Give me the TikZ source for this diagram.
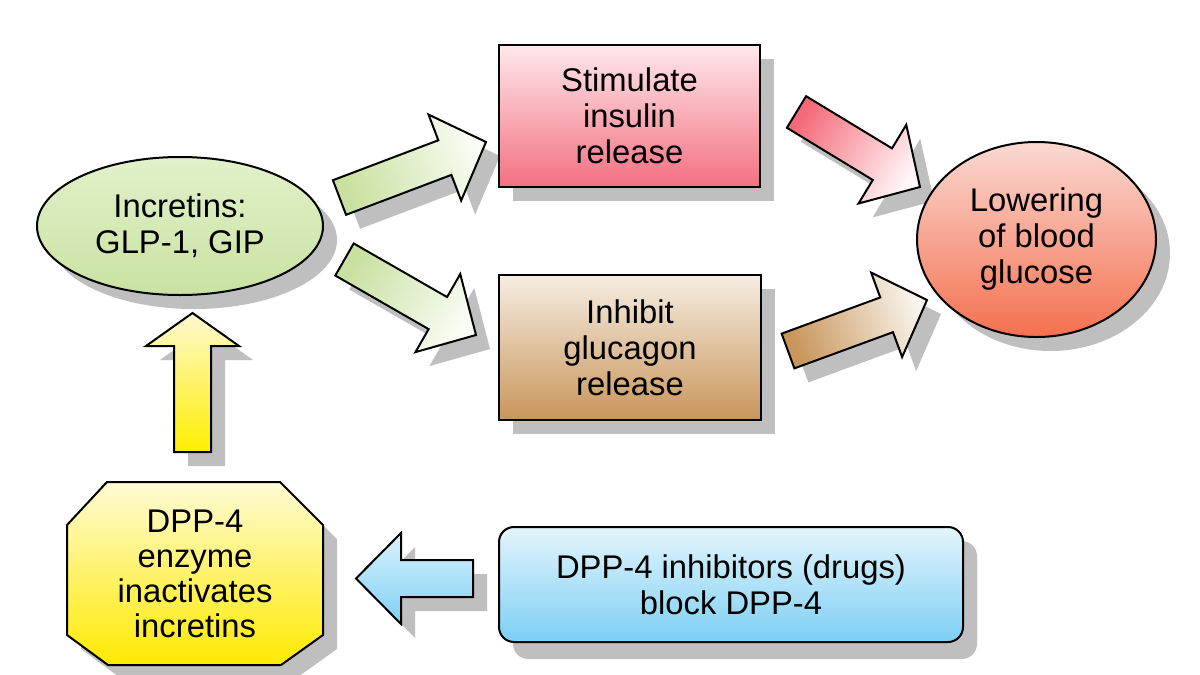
\documentclass[tikz,border=0pt]{standalone}
\usepackage{fontspec}
\setmainfont{Liberation Sans}
\usetikzlibrary{shapes.geometric,shadows,calc}
\definecolor{shgray}{HTML}{BFBFBF}
\definecolor{incT}{HTML}{E2F1CA}
\definecolor{incB}{HTML}{C9E2A2}
\definecolor{stiT}{HTML}{FFE8EC}
\definecolor{stiB}{HTML}{F37080}
\definecolor{inhT}{HTML}{F6EDE3}
\definecolor{inhB}{HTML}{C8965A}
\definecolor{lowT}{HTML}{FBD9D3}
\definecolor{lowB}{HTML}{F4704F}
\definecolor{dppT}{HTML}{FFFBD6}
\definecolor{dppB}{HTML}{FFEA00}
\definecolor{drgT}{HTML}{E4F5FC}
\definecolor{drgB}{HTML}{7CCFF5}
\definecolor{grnTail}{HTML}{C8E0A0}
\definecolor{grnTip}{HTML}{FAFDF5}
\definecolor{redTail}{HTML}{F46A78}
\definecolor{redTip}{HTML}{FFF6F8}
\definecolor{brnTail}{HTML}{C8955A}
\definecolor{brnTip}{HTML}{FAF6F0}
\definecolor{yelTail}{HTML}{FFEE00}
\definecolor{yelTip}{HTML}{FFF9D0}
\definecolor{bluT}{HTML}{DAF2FC}
\definecolor{bluB}{HTML}{7DD0F6}
% #1 start, #2 tip, #3 head length, #4 head half width, #5 options
\newcommand\blockarrow[5]{%
  \coordinate (hb) at ($(#2)!#3!(#1)$);
  \path[#5] ($(#1)!18.5pt!90:(#2)$) -- ($(hb)!18.5pt!90:(#2)$) -- ($(hb)!#4!90:(#2)$) -- (#2)
    -- ($(hb)!#4!-90:(#2)$) -- ($(hb)!18.5pt!-90:(#2)$) -- ($(#1)!18.5pt!-90:(#2)$) -- cycle;
}
\begin{document}
\begin{tikzpicture}[x=1pt,y=-1pt,
  shad/.style={drop shadow={shadow xshift=14pt,shadow yshift=-14pt,fill=shgray,opacity=1}},
  blk/.style={draw=black,line width=2pt,inner sep=0pt,align=center,
    font=\fontsize{32.8}{36}\selectfont,shad},
  txt/.style={inner sep=0pt,align=center,font=\fontsize{32.8}{35}\selectfont},
  arr/.style={draw=black,line width=2pt,shad}]
\useasboundingbox[fill=white] (0,0) rectangle (1200,675);

% arrow end points
\coordinate (a1s) at (339.5,197.5); \coordinate (a1t) at (486,142);
\coordinate (a2s) at (344.5,259.5); \coordinate (a2t) at (476,335);
\coordinate (a3s) at (796.5,112);   \coordinate (a3t) at (920,187);
\coordinate (a4s) at (788,351);     \coordinate (a4t) at (927,300);
\coordinate (a5s) at (192.5,452);   \coordinate (a5t) at (192.5,313);
\coordinate (a6s) at (473,578.5);   \coordinate (a6t) at (356,578.5);

\blockarrow{a1s}{a1t}{44pt}{46pt}{arr,top color=grnTip,bottom color=grnTail,shading angle=-69.25}
\blockarrow{a2s}{a2t}{44pt}{45pt}{arr,top color=grnTip,bottom color=grnTail,shading angle=-119.9}
\blockarrow{a3s}{a3t}{44pt}{46pt}{arr,top color=redTip,bottom color=redTail,shading angle=-121.3}
\blockarrow{a4s}{a4t}{43pt}{45pt}{arr,top color=brnTip,bottom color=brnTail,shading angle=-69.9}
\blockarrow{a5s}{a5t}{33pt}{46.5pt}{arr,top color=yelTip,bottom color=yelTail,shading angle=0}
\blockarrow{a6s}{a6t}{45pt}{45.5pt}{arr,top color=bluT,bottom color=bluB,shading angle=0}

% nodes
\node[blk,ellipse,minimum width=286pt,minimum height=138pt,top color=incT,bottom color=incB]
  (inc) at (180,226) {Incretins:\\GLP-1, GIP};
\node[blk,rectangle,minimum width=261pt,minimum height=142pt,top color=stiT,bottom color=stiB]
  (sti) at (629.5,116) {Stimulate\\insulin\\release};
\node[blk,rectangle,minimum width=262pt,minimum height=145pt,top color=inhT,bottom color=inhB]
  (inh) at (630,347.5) {Inhibit\\glucagon\\release};
\node[blk,ellipse,minimum width=239pt,minimum height=195pt,top color=lowT,bottom color=lowB]
  (low) at (1036.5,239.5) {Lowering\\of blood\\glucose};
\node[blk,rectangle,rounded corners=15pt,minimum width=464pt,minimum height=115pt,top color=drgT,bottom color=drgB,
  drop shadow={shadow xshift=14pt,shadow yshift=-17pt,fill=shgray,opacity=1}]
  (drg) at (731,584.5) {DPP-4 inhibitors (drugs)\\block DPP-4};

% octagon
\path[arr,top color=dppT,bottom color=dppB]
  (107,482) -- (280,482) -- (323,525) -- (323,635) -- (281,665) -- (108,665) -- (67,635) -- (67,525) -- cycle;
\node[txt] (dpp) at (195,573.5) {DPP-4\\enzyme\\inactivates\\incretins};
\end{tikzpicture}
\end{document}
